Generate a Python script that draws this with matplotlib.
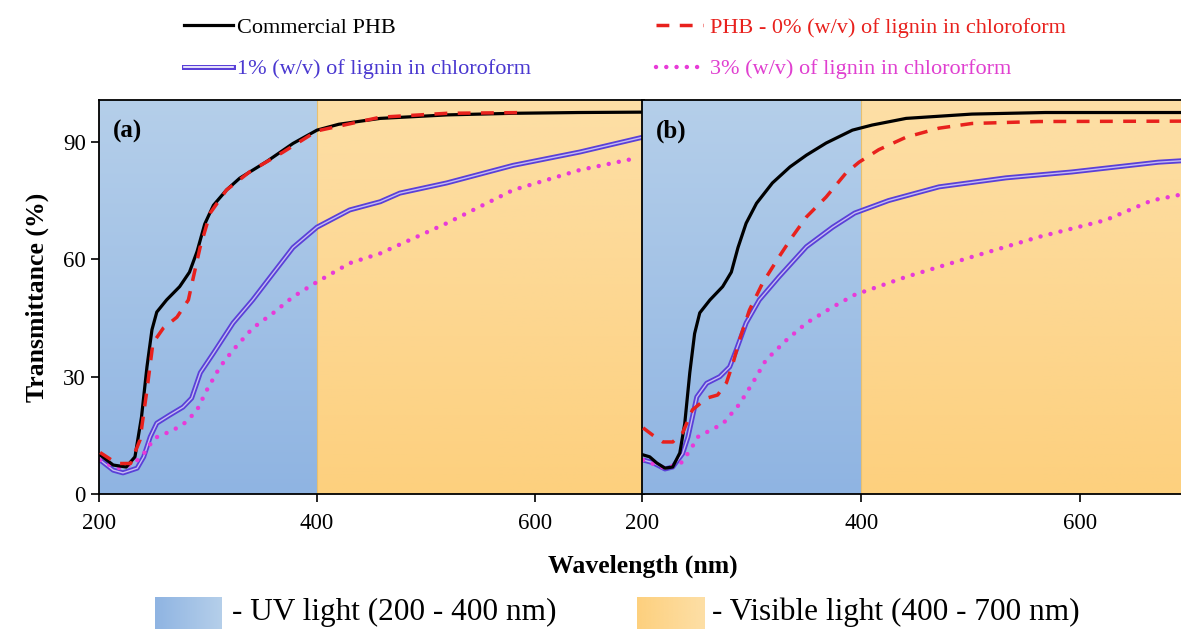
import numpy as np
import matplotlib
matplotlib.use("Agg")
from matplotlib import pyplot as plt
from matplotlib.colors import LinearSegmentedColormap
from matplotlib.lines import Line2D

plt.rcParams['font.family'] = ['Liberation Serif', 'DejaVu Serif']

# ---- panel (a) ----
a_black_x = [201, 213, 225, 233, 239, 244, 248.6, 253, 262, 274, 283, 290, 297, 305, 317, 329, 354, 378, 400, 420, 458, 520, 580, 640, 700]
a_black_y = [10.0, 7.4, 6.9, 9.5, 19.7, 32.5, 42, 46.5, 49.6, 53, 56.7, 62, 69, 73.8, 77.7, 80.7, 85, 89.6, 93, 94.5, 96, 96.9, 97.3, 97.5, 97.6]
a_red_x = [201, 216.5, 229, 237.6, 244, 249.5, 259, 271.5, 282, 286, 292.7, 302, 317, 338, 369, 400, 458, 519, 593]
a_red_y = [10.6, 7.8, 7.8, 13.8, 26.6, 38.6, 42.4, 45.2, 49.6, 54.7, 63, 71.8, 77.7, 82.3, 87.4, 92.8, 96.3, 97.3, 97.5]
a_blue_x = [201, 213, 222, 235, 241, 247, 253, 265, 277, 285, 293, 305, 323, 341, 360, 378, 400, 430, 458, 476, 519, 580, 641, 699]
a_blue_y = [8.7, 6.1, 5.4, 6.6, 9.5, 14.6, 18.1, 20.2, 22.2, 24.5, 31, 36, 43.7, 49.6, 56.5, 63, 68.2, 72.6, 74.7, 76.9, 79.5, 84, 87.4, 91.2]
a_mag_x = [201, 210, 219, 232, 241, 251, 268, 280, 290, 299, 311, 323, 341, 360, 378, 400, 430, 458, 519, 580, 641, 694]
a_mag_y = [8.7, 7.4, 6.6, 7.8, 10.3, 14.3, 16.3, 18.4, 21.5, 26.6, 32.5, 36.8, 42.4, 46.3, 50.4, 54.2, 59, 61.5, 69.2, 77.7, 82.8, 85.9]

# ---- panel (b) ----
b_black_x = [201, 207, 213.6, 221, 228, 234.5, 239, 243.6, 248, 252.7, 262, 273.6, 281.5, 287.6, 295, 304.5, 319, 335, 350, 368, 392, 410, 441, 501, 568, 700]
b_black_y = [10, 9.5, 7.9, 6.6, 6.9, 10.5, 18, 31, 41, 46.3, 49.6, 53, 56.7, 63, 69.2, 74.3, 79.5, 83.6, 86.6, 89.7, 93, 94.3, 96, 97.1, 97.5, 97.5]
b_red_x = [201, 210, 219, 228, 237, 246, 259, 269, 277, 283, 289, 298, 310, 325, 337, 350, 368, 386, 398, 416, 441, 471, 501, 562, 700]
b_red_y = [16.9, 15, 13.3, 13.3, 15.6, 21.5, 24.5, 25.3, 28.4, 33.4, 39.4, 47, 53.9, 60.6, 65.7, 70.8, 75.9, 82, 84.8, 88, 91.2, 93.5, 94.7, 95.2, 95.3]
b_blue_x = [201, 210, 221, 228, 237, 242, 250, 259, 271, 280, 286, 295, 307, 325, 350, 374, 394, 425, 471, 532, 592, 671, 700]
b_blue_y = [8.7, 8, 6.4, 6.9, 10.3, 14.6, 24.8, 28.3, 30, 32.5, 36.8, 43.7, 49.6, 55.5, 63.2, 68.2, 71.8, 75, 78.5, 80.8, 82.3, 84.8, 85.3]
b_mag_x = [201, 210, 221, 235, 244, 251, 274, 289, 301, 313, 332, 350, 374, 394, 441, 501, 562, 623, 665, 700]
b_mag_y = [8.7, 7.7, 6.6, 7.7, 11.2, 14.6, 18, 23, 28.4, 34.2, 39.4, 43.7, 47.8, 50.9, 55.5, 60.6, 65.7, 70, 75, 77]

labels = ['Commercial PHB', 'PHB - 0% (w/v) of lignin in chloroform',
          '1% (w/v) of lignin in chloroform', '3% (w/v) of lignin in chlororform']

c_black = 'black'
c_red = '#e8211d'
c_blue = '#5a40d8'
c_mag = '#e83ad8'

uv_cmap = LinearSegmentedColormap.from_list('uv', ['#8fb4e2', '#b5cfea'])
vis_cmap = LinearSegmentedColormap.from_list('vis', ['#fdd07e', '#fddfa6'])
grad = np.linspace(0, 1, 256).reshape(-1, 1)

fig = plt.figure(figsize=(11.81, 6.29), dpi=100)
W, H = 1181.0, 629.0
ax_a = fig.add_axes([99 / W, 1 - 494 / H, 545 / W, 394 / H])
ax_b = fig.add_axes([642 / W, 1 - 494 / H, 548 / W, 394 / H])

ymax = 100.7


def draw_panel(ax, bx, by, rx, ry, blx, bly, mx, my, tag):
    ax.imshow(grad, cmap=uv_cmap, origin='lower', aspect='auto',
              extent=[200, 400, 0, ymax], zorder=0)
    ax.imshow(grad, cmap=vis_cmap, origin='lower', aspect='auto',
              extent=[400, 700, 0, ymax], zorder=0)
    ax.axvline(400, color='#e8c070', lw=0.8, zorder=0.5)
    # double blue line
    ax.plot(blx, bly, color=c_blue, lw=3.6, solid_capstyle='butt', zorder=2)
    ax.plot(blx, bly, color='white', lw=1.0, alpha=0.65, zorder=2.1)
    ax.plot(mx, my, color=c_mag, lw=3.2, dashes=(0.01, 2.3),
            dash_capstyle='round', zorder=2.2)
    ax.plot(bx, by, color=c_black, lw=2.3, zorder=3)
    ax.plot(rx, ry, color=c_red, lw=2.5, dashes=(3.7, 3.0), zorder=3.1)
    ax.set_xlim(200, 700)
    ax.set_ylim(0, ymax)
    ax.set_xticks([200, 400, 600])
    ax.set_yticks([0, 30, 60, 90])
    ax.tick_params(direction='out', length=6, width=1.2, labelsize=16.5)
    for s in ax.spines.values():
        s.set_linewidth(1.3)
    ax.text(0.025, 0.95, tag, transform=ax.transAxes, fontsize=18,
            fontweight='bold', va='top', ha='left')


draw_panel(ax_a, a_black_x, a_black_y, a_red_x, a_red_y, a_blue_x, a_blue_y,
           a_mag_x, a_mag_y, '(a)')
draw_panel(ax_b, b_black_x, b_black_y, b_red_x, b_red_y, b_blue_x, b_blue_y,
           b_mag_x, b_mag_y, '(b)')
ax_b.tick_params(labelleft=False, left=False)
ax_a.tick_params(axis='x', pad=8)
ax_b.tick_params(axis='x', pad=8)
ax_a.set_ylabel('Transmittance (%)', fontsize=18.5, fontweight='bold', labelpad=10)
fig.text(643 / W, 1 - 566 / H, 'Wavelength (nm)', fontsize=18.5,
         fontweight='bold', ha='center', va='center')

# ---- top legend (two columns) ----
h_black = Line2D([], [], color=c_black, lw=2.3)
h_red = Line2D([], [], color=c_red, lw=2.5, dashes=(3.7, 3.0))
h_blue = (Line2D([], [], color=c_blue, lw=3.6),
          Line2D([], [], color='white', lw=1.2))
h_mag = Line2D([], [], color=c_mag, lw=3.2, dashes=(0.01, 2.3), dash_capstyle='round')

leg1 = fig.legend([h_black, h_blue], [labels[0], labels[2]], loc='upper left',
                  bbox_to_anchor=(164 / W, 1 + 3 / H), frameon=False, fontsize=16,
                  handlelength=2.2, handletextpad=0.18, labelspacing=0.96)
for t, c in zip(leg1.get_texts(), [c_black, '#4a38d0']):
    t.set_color(c)
leg2 = fig.legend([h_red, h_mag], [labels[1], labels[3]], loc='upper left',
                  bbox_to_anchor=(636 / W, 1 + 3 / H), frameon=False, fontsize=16,
                  handlelength=2.1, handletextpad=0.35, labelspacing=0.96)
for t, c in zip(leg2.get_texts(), [c_red, '#e040d0']):
    t.set_color(c)

# ---- bottom legend (gradient patches) ----
hgrad = np.linspace(0, 1, 256).reshape(1, -1)
p_uv = fig.add_axes([155 / W, 0, 67 / W, 32 / H])
p_uv.imshow(hgrad, cmap=uv_cmap, aspect='auto')
p_uv.axis('off')
p_vis = fig.add_axes([637 / W, 0, 68 / W, 32 / H])
p_vis.imshow(hgrad, cmap=vis_cmap, aspect='auto')
p_vis.axis('off')
fig.text(232 / W, 1 - 612 / H, '- UV light (200 - 400 nm)', fontsize=22.5,
         va='center', ha='left')
fig.text(712 / W, 1 - 612 / H, '- Visible light (400 - 700 nm)', fontsize=22.5,
         va='center', ha='left')

fig.savefig('out.png', dpi=100)
